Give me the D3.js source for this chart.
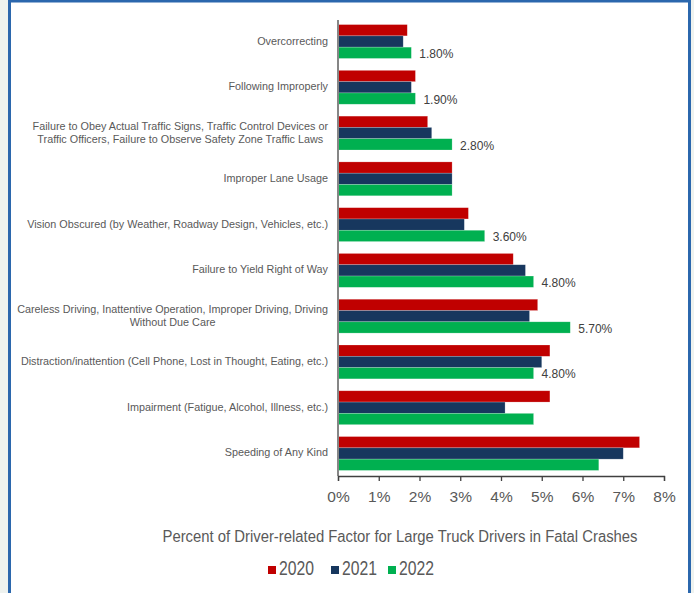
<!DOCTYPE html>
<html>
<head>
<meta charset="utf-8">
<script src="https://cdn.jsdelivr.net/npm/d3@7"></script>
<style>
  body { margin: 0; background: #eef2ef; }
  svg { display: block; }
  text { font-family: "Liberation Sans", Arial, sans-serif; }
</style>
</head>
<body>
<svg id="chart" width="694" height="593"></svg>
<script>
const categories = [
  ["Overcorrecting"],
  ["Following Improperly"],
  ["Failure to Obey Actual Traffic Signs, Traffic Control Devices or", "Traffic Officers, Failure to Observe Safety Zone Traffic Laws"],
  ["Improper Lane Usage"],
  ["Vision Obscured (by Weather, Roadway Design, Vehicles, etc.)"],
  ["Failure to Yield Right of Way"],
  ["Careless Driving, Inattentive Operation, Improper Driving, Driving", "Without Due Care"],
  ["Distraction/inattention (Cell Phone, Lost in Thought, Eating, etc.)"],
  ["Impairment (Fatigue, Alcohol, Illness, etc.)"],
  ["Speeding of Any Kind"]
];
const seriesNames = ["2020", "2021", "2022"];
const values2020 = [1.7, 1.9, 2.2, 2.8, 3.2, 4.3, 4.9, 5.2, 5.2, 7.4];
const values2021 = [1.6, 1.8, 2.3, 2.8, 3.1, 4.6, 4.7, 5.0, 4.1, 7.0];
const values2022 = [1.8, 1.9, 2.8, 2.8, 3.6, 4.8, 5.7, 4.8, 4.8, 6.4];
const dataLabels2022 = ["1.80%", "1.90%", "2.80%", null, "3.60%", "4.80%", "5.70%", "4.80%", null, null];
const tickValues = [0, 1, 2, 3, 4, 5, 6, 7, 8];
const tickLabels = ["0%", "1%", "2%", "3%", "4%", "5%", "6%", "7%", "8%"];
const colors = ["#C00000", "#17375E", "#00B050"];
const axisTitle = "Percent of Driver-related Factor for Large Truck Drivers in Fatal Crashes";

const seriesValues = [values2020, values2021, values2022];
const svg = d3.select("#chart");

// frame
svg.append("rect").attr("x", 9.5).attr("y", 1).attr("width", 680).attr("height", 600)
  .attr("fill", "#ffffff").attr("stroke", "#2b67ad").attr("stroke-width", 3);

const idx = d3.range(categories.length);
const x = d3.scaleLinear().domain([0, 8]).range([338, 664]);
const y = d3.scaleBand().domain(idx).range([20, 475]).paddingInner(0.26).paddingOuter(0.1);
const y1 = d3.scaleBand().domain(d3.range(3)).range([0, y.bandwidth()]);

// bars
const groups = svg.append("g").selectAll("g").data(idx).join("g")
  .attr("transform", i => `translate(0,${y(i)})`);
groups.selectAll("rect").data(i => seriesValues.map((s, k) => ({k, v: s[i]}))).join("rect")
  .attr("x", x(0))
  .attr("y", d => y1(d.k))
  .attr("width", d => x(d.v) - x(0))
  .attr("height", y1.bandwidth())
  .attr("fill", d => colors[d.k])
  .attr("stroke", "rgba(255,255,255,0.35)")
  .attr("stroke-width", 0.6);

// data labels
svg.append("g").selectAll("text").data(idx.filter(i => dataLabels2022[i])).join("text")
  .attr("x", i => x(values2022[i]) + 8)
  .attr("y", i => y(i) + y1(2) + y1.bandwidth() / 2 + 2)
  .attr("dominant-baseline", "middle")
  .attr("font-size", 12)
  .attr("fill", "#404040")
  .text(i => dataLabels2022[i]);

// category labels
const catG = svg.append("g").selectAll("text").data(idx).join("text")
  .attr("text-anchor", "end")
  .attr("font-size", 10.8)
  .attr("fill", "#595959")
  .attr("x", 328)
  .attr("y", i => y(i) + y1(1) + y1.bandwidth() / 2 - (categories[i].length - 1) * 6.5)
  .attr("dominant-baseline", "middle");
catG.each(function(i) {
  const t = d3.select(this);
  categories[i].forEach((line, j) => {
    t.append("tspan").attr("x", 328).attr("dy", j === 0 ? 0 : 13).text(line);
  });
});
catG.each(function(i) {
  const tspans = d3.select(this).selectAll("tspan").nodes();
  if (tspans.length > 1) {
    const w0 = tspans[0].getComputedTextLength();
    tspans.forEach(ts => {
      ts.setAttribute("text-anchor", "middle");
      ts.setAttribute("x", 328 - w0 / 2);
    });
  }
});

// vertical axis line
svg.append("line").attr("x1", x(0)).attr("x2", x(0)).attr("y1", 20).attr("y2", 476)
  .attr("stroke", "#868686").attr("stroke-width", 2);

// x axis
const xAxis = d3.axisBottom(x).tickValues(tickValues).tickFormat((d, i) => tickLabels[i]).tickSizeOuter(0).tickSize(5).tickPadding(10);
const ax = svg.append("g").attr("transform", "translate(0,476)").call(xAxis);
ax.select(".domain").attr("stroke", "#404040").attr("stroke-width", 1.3);
ax.selectAll(".tick line").attr("stroke", "#404040").attr("stroke-width", 1.3);
ax.selectAll(".tick text").attr("font-size", 15.5).attr("fill", "#595959")
  .attr("font-family", "'Liberation Sans', Arial, sans-serif");

// axis title
svg.append("text").attr("x", 400).attr("y", 538).attr("text-anchor", "middle")
  .attr("dominant-baseline", "middle").attr("font-size", 16).attr("fill", "#595959")
  .attr("textLength", 475).attr("lengthAdjust", "spacingAndGlyphs").text(axisTitle);

// legend
const legendX = [268, 331, 388];
const leg = svg.append("g").selectAll("g").data(seriesNames).join("g")
  .attr("transform", (d, i) => `translate(${legendX[i]},570)`);
leg.append("rect").attr("x", 0).attr("y", -4).attr("width", 8).attr("height", 8).attr("fill", (d, i) => colors[i]);
leg.append("text").attr("x", 11).attr("y", 0).attr("dominant-baseline", "middle")
  .attr("font-size", 20).attr("fill", "#595959")
  .attr("textLength", 35).attr("lengthAdjust", "spacingAndGlyphs").text(d => d);
</script>
</body>
</html>
